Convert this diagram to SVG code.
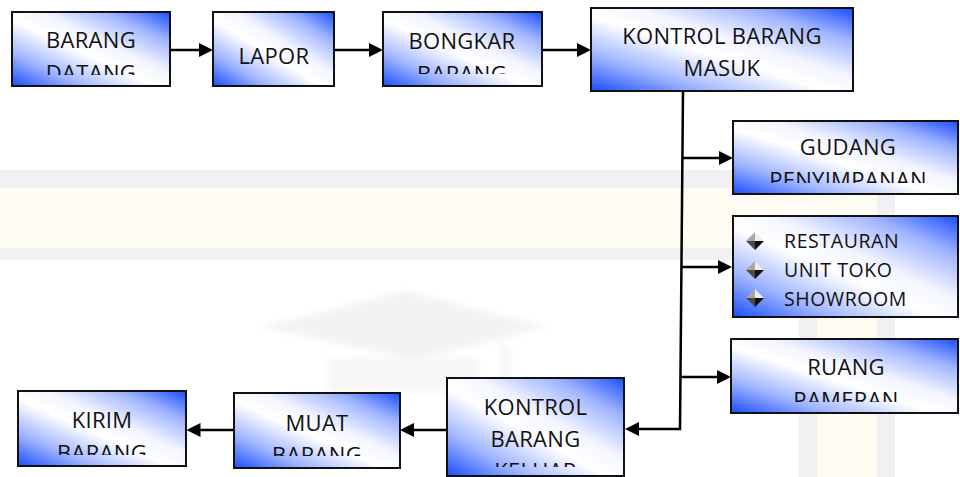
<svg xmlns="http://www.w3.org/2000/svg" width="960" height="477" viewBox="0 0 960 477">
  <style>
    .box { stroke: #111; stroke-width: 2; fill: url(#boxFill); }
    .lbl { font-family: "Open Sans", "Noto Sans", sans-serif; font-size: 22px; letter-spacing: 0.3px; fill: #111; text-anchor: middle; }
    .item { font-family: "Open Sans", "Noto Sans", sans-serif; font-size: 19.5px; letter-spacing: 0.6px; fill: #111; }
    .wire { fill: none; stroke: #000; stroke-width: 2.5; marker-end: url(#head); }
  </style>
  <defs>
    <linearGradient id="boxFill" x1="0" y1="1" x2="1" y2="0">
      <stop offset="0" stop-color="#1a4dff"/>
      <stop offset="0.22" stop-color="#9fb4ff"/>
      <stop offset="0.45" stop-color="#ffffff"/>
      <stop offset="0.58" stop-color="#f4f6ff"/>
      <stop offset="0.8" stop-color="#9fb4ff"/>
      <stop offset="1" stop-color="#1a4dff"/>
    </linearGradient>
    <marker id="head" viewBox="0 0 14 14" refX="4" refY="7" markerWidth="14" markerHeight="14" markerUnits="userSpaceOnUse" orient="auto">
      <path d="M0,0 L14,7 L0,14 z" fill="#000"/>
    </marker>
    <filter id="soft" x="-10%" y="-20%" width="120%" height="140%">
      <feGaussianBlur stdDeviation="3"/>
    </filter>
    <!-- bevelled diamond bullet -->
    <g id="bullet">
      <path d="M0,-9 L0,0 L-9,0 z" fill="#a8a8a8"/>
      <path d="M0,-9 L9,0 L0,0 z" fill="#eeeeee"/>
      <path d="M-9,0 L0,0 L0,9 z" fill="#4a4a4a"/>
      <path d="M0,0 L9,0 L0,9 z" fill="#111111"/>
    </g>
    <clipPath id="c1"><rect x="12" y="12" width="158" height="63"/></clipPath>
    <clipPath id="c3"><rect x="383" y="12" width="159" height="62"/></clipPath>
    <clipPath id="c5"><rect x="733" y="121" width="225" height="62"/></clipPath>
    <clipPath id="c6"><rect x="733" y="216" width="225" height="91"/></clipPath>
    <clipPath id="c7"><rect x="731" y="339" width="227" height="63"/></clipPath>
    <clipPath id="c8"><rect x="447" y="378" width="177" height="89"/></clipPath>
    <clipPath id="c9"><rect x="234" y="393" width="166" height="63"/></clipPath>
    <clipPath id="c10"><rect x="18" y="391" width="168" height="64"/></clipPath>
  </defs>

  <rect width="960" height="477" fill="#fff"/>

  <!-- faint background watermark -->
  <g opacity="0.28">
    <path d="M0,170 H895 V477 H799 V260 H0 Z" fill="#cfcfd8"/>
    <path d="M0,188 H877 V477 H817 V248 H0 Z" fill="#f8f4d2"/>
  </g>
  <g opacity="0.22" filter="url(#soft)">
    <path d="M262,327 L405,291 L547,327 L415,360 Z" fill="#c8c8d2"/>
    <path d="M328,358 L478,358 L478,392 L328,392 Z" fill="#dcdce4"/>
    <rect x="500" y="345" width="10" height="55" fill="#dcdce4"/>
  </g>

  <!-- connectors -->
  <g id="connectors">
    <path class="wire" d="M167,50 H203"/>
    <path class="wire" d="M331,50 H373"/>
    <path class="wire" d="M542,50 H581"/>
    <path class="wire" d="M683,91 L680,429 H635"/>
    <path class="wire" d="M682,158 H723"/>
    <path class="wire" d="M681,267 H722"/>
    <path class="wire" d="M680.5,377 H721"/>
    <path class="wire" d="M447,430 H410"/>
    <path class="wire" d="M234,430 H196.5"/>
  </g>

  <g id="barang-datang">
    <rect class="box" x="12" y="12" width="158" height="74"/>
    <g clip-path="url(#c1)">
      <text class="lbl" x="91" y="48">BARANG</text>
      <text class="lbl" x="91" y="81">DATANG</text>
    </g>
  </g>

  <g id="lapor">
    <rect class="box" x="213" y="12" width="121" height="74"/>
    <text class="lbl" x="274" y="64">LAPOR</text>
  </g>

  <g id="bongkar-barang">
    <rect class="box" x="383" y="12" width="159" height="74"/>
    <g clip-path="url(#c3)">
      <text class="lbl" x="462" y="49">BONGKAR</text>
      <text class="lbl" x="462" y="82">BARANG</text>
    </g>
  </g>

  <g id="kontrol-masuk">
    <rect class="box" x="591" y="8" width="262" height="83"/>
    <text class="lbl" x="722" y="43.5">KONTROL BARANG</text>
    <text class="lbl" x="722" y="76">MASUK</text>
  </g>

  <g id="gudang">
    <rect class="box" x="733" y="121" width="225" height="73"/>
    <g clip-path="url(#c5)">
      <text class="lbl" x="848" y="155">GUDANG</text>
      <text class="lbl" x="848" y="188">PENYIMPANAN</text>
    </g>
  </g>

  <g id="outlets">
    <rect class="box" x="733" y="216" width="225" height="101"/>
    <g clip-path="url(#c6)">
      <use href="#bullet" x="755" y="241"/>
      <use href="#bullet" x="755" y="270"/>
      <use href="#bullet" x="755" y="298"/>
      <text class="item" x="784" y="248">RESTAURAN</text>
      <text class="item" x="784" y="277">UNIT TOKO</text>
      <text class="item" x="784" y="306">SHOWROOM</text>
    </g>
  </g>

  <g id="ruang-pameran">
    <rect class="box" x="731" y="339" width="227" height="74"/>
    <g clip-path="url(#c7)">
      <text class="lbl" x="846" y="375">RUANG</text>
      <text class="lbl" x="846" y="408">PAMERAN</text>
    </g>
  </g>

  <g id="kontrol-keluar">
    <rect class="box" x="447" y="378" width="177" height="98"/>
    <g clip-path="url(#c8)">
      <text class="lbl" x="535.5" y="415">KONTROL</text>
      <text class="lbl" x="535.5" y="447">BARANG</text>
      <text class="lbl" x="535.5" y="479">KELUAR</text>
    </g>
  </g>

  <g id="muat-barang">
    <rect class="box" x="234" y="393" width="166" height="75"/>
    <g clip-path="url(#c9)">
      <text class="lbl" x="317" y="431">MUAT</text>
      <text class="lbl" x="317" y="463">BARANG</text>
    </g>
  </g>

  <g id="kirim-barang">
    <rect class="box" x="18" y="391" width="168" height="75"/>
    <g clip-path="url(#c10)">
      <text class="lbl" x="102" y="428">KIRIM</text>
      <text class="lbl" x="102" y="461">BARANG</text>
    </g>
  </g>
</svg>
